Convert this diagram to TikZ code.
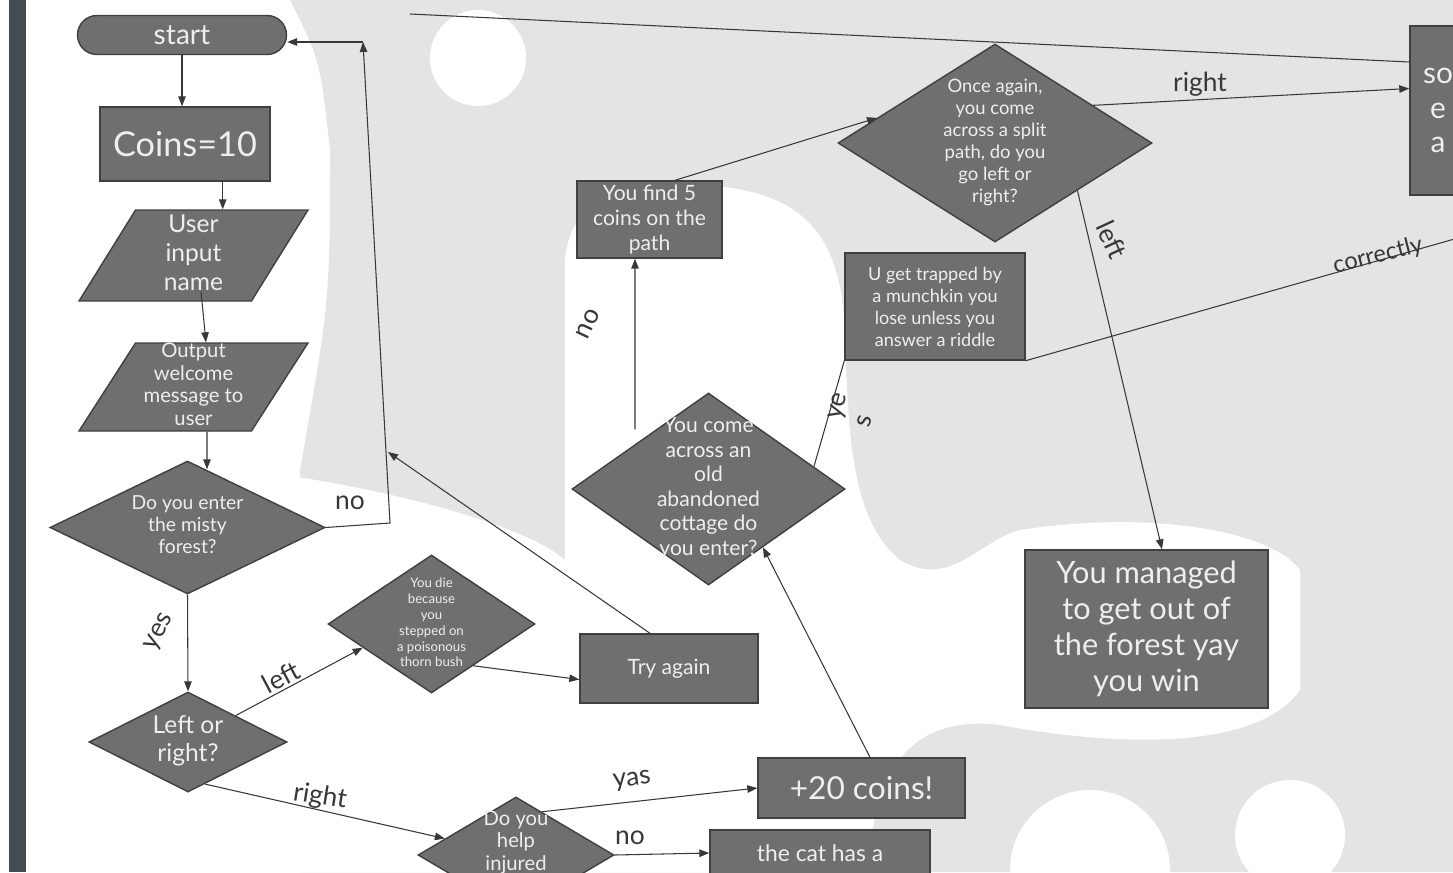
\documentclass[tikz,border=0pt]{standalone}
\usepackage{fontspec}
\setmainfont{Lato}
\usetikzlibrary{arrows.meta, shapes.geometric}
\definecolor{cbox}{HTML}{6F6F6F}
\definecolor{cedge}{HTML}{404040}
\definecolor{ctext}{HTML}{EEEEEE}
\definecolor{cline}{HTML}{383838}
\definecolor{cbar}{HTML}{464B50}
\definecolor{cback}{HTML}{E4E4E4}
\newcommand{\dtxt}[1]{\hspace{0.1em}\rule[-0.1em]{0pt}{0.2em}\smash{\makebox[0pt]{\raisebox{-0.25em}{\begin{tabular}{@{}c@{}}#1\end{tabular}}}}\hspace{0.1em}}
\newcommand{\fsz}[2]{\fontsize{#1}{#2}\selectfont}
\tikzset{
  box/.style 2 args={draw=cedge, fill=cbox, text=ctext, line width=0.8pt, align=center, inner sep=0pt, minimum width=#1*0.02cm, minimum height=#2*0.02cm},
  term/.style 2 args={box={#1}{#2}, rounded corners=#2*0.01cm},
  decide/.style 2 args={box={#1}{#2}, shape=diamond},
  io/.style 2 args={box={#1}{#2}, shape=trapezium, trapezium left angle=64, trapezium right angle=116, trapezium stretches=true},
  arrow/.style={-{Triangle[length=2mm, width=1.5mm]}, draw=cline, line width=0.6pt},
  link/.style={draw=cline, line width=0.6pt},
  note/.style={text=cline, inner sep=0pt, font=\fsz{15}{17}},
}

\begin{document}
\begin{tikzpicture}[x=0.02cm, y=-0.02cm]
  \useasboundingbox (0,0) rectangle (1453,872);
  \clip (0,0) rectangle (1453,872);
  \fill[white] (0,0) rectangle (1453,872);
  % background
  \fill[cback] (290,0) -- (1453,0) -- (1453,872) -- (300,872) -- (300,470) .. controls (330,300) .. (330,150) .. controls (320,60) .. (290,0) -- cycle;
  \fill[white] (240,872) -- (240,470) .. controls (350,480) and (520,520) .. (565,560) -- (565,260) .. controls (570,200) and (620,180) .. (700,185) .. controls (800,190) and (840,230) .. (845,330) .. controls (848,430) and (850,520) .. (900,560) .. controls (950,590) and (980,540) .. (1020,530) .. controls (1150,510) and (1270,530) .. (1300,570) -- (1300,690) .. controls (1250,760) and (1080,740) .. (1000,725) .. controls (920,715) and (870,760) .. (870,872) -- cycle;
  \fill[white] (478,58) circle (48);
  \fill[white] (1090,870) circle (80);
  \fill[white] (1290,835) circle (55);
  \fill[cbar] (9,0) rectangle (26,872);

  \node[term={209}{39}, font=\fsz{16}{18}] (start) at (182,35) {start};
  \node[box={170}{74}, font=\fsz{19.5}{22}] (coins) at (185,144) {Coins=10};
  \node[io={229}{91}, font=\fsz{14}{16.5}] (uin) at (193.5,255.5) {\dtxt{User\\input\\name}};
  \node[io={229}{88}, font=\fsz{11.5}{12.8}] (outmsg) at (193.5,387) {\dtxt{Output\\welcome\\message to\\user}};
  \node[decide={275}{133}, font=\fsz{11}{12.5}] (misty) at (187.5,527.5) {\dtxt{Do you enter\\the misty\\forest?}};
  \node[decide={198}{100}, font=\fsz{14}{16}] (lor) at (188,742) {\dtxt{Left or\\right?}};
  \node[decide={207}{138}, font=\fsz{7.5}{9}] (die) at (431.5,624) {\dtxt{You die\\because\\you\\stepped on\\a poisonous\\thorn bush}};
  \node[box={178}{69}, font=\fsz{12}{14}] (tryagain) at (669,668.5) {Try again};
  \node[decide={273}{192}, font=\fsz{12}{14}] (cottage) at (708.5,489) {\dtxt{You come\\across an\\old\\abandoned\\cottage do\\you enter?}};
  \node[box={145}{77}, font=\fsz{12}{14}] (fivecoins) at (649.5,219.5) {You find 5\\coins on the\\path};
  \node[decide={314}{198}, font=\fsz{10.5}{12.5}] (once) at (995,143) {\dtxt{Once again,\\you come\\across a split\\path, do you\\go left or\\right?}};
  \node[box={180}{107}, font=\fsz{10.3}{12.5}] (munchkin) at (935,306.5) {U get trapped by\\a munchkin you\\lose unless you\\answer a riddle};
  \node[box={56}{169}, font=\fsz{17}{19.5}] (rightbox) at (1438,110.5) {so\\e\\a};
  \node[box={243}{158}, font=\fsz{17.5}{20.5}] (managed) at (1146.5,629) {You managed\\to get out of\\the forest yay\\you win};
  \node[box={207}{60}, font=\fsz{18}{20}] (plus20) at (861.5,788) {+20 coins!};
  \node[box={220}{46}, font=\fsz{13}{15}] (cat) at (820,853) {the cat has a};
  \node[decide={196}{116}, font=\fsz{11.5}{13}] (help) at (516,855) {\dtxt{Do you\\help\\injured\\~}};

  \coordinate (noturn) at (390,523);
  \coordinate (backtop) at (363,42);
  \coordinate (backmid) at (388,452);
  \coordinate (topstart) at (410,14);
  \coordinate (offright) at (1465,236);

  \draw[arrow] (start.south) -- (start.south |- coins.north);
  \draw[arrow] (coins.-45) -- (coins.-45 |- uin.north);
  \draw[arrow] ([xshift=0.15cm, yshift=0.2cm]uin.south) -- ([xshift=0.25cm]outmsg.north);
  \draw[arrow] ([xshift=0.27cm]outmsg.south) -- ([xshift=0.39cm, yshift=-0.18cm]misty.north);
  \draw[arrow] (misty.east) -- (noturn) -- (backtop);
  \draw[arrow] (backtop) -- (backtop -| start.east);
  \draw[arrow] ([xshift=-0.38cm]tryagain.north) -- (backmid);
  \draw[arrow] (misty.south) -- (lor.north);
  \draw[arrow] (lor.29) -- (die.199);
  \draw[arrow] (lor.-68) -- (help.167);
  \draw[arrow] (die.-45) -- ([yshift=-0.22cm]tryagain.west);
  \draw[arrow] (help.59) -- (plus20.west);
  \draw[arrow] (help.east) -- (cat.west);
  \draw[arrow] ([xshift=0.17cm]plus20.north) -- (cottage.-47);
  \draw[arrow] ([xshift=-1.47cm, yshift=-0.74cm]cottage.north) -- ([xshift=-0.29cm]fivecoins.south);
  \draw[link] (cottage.12) -- (munchkin.south west);
  \draw[arrow] ([xshift=0.51cm]fivecoins.north) -- (once.168);
  \draw[arrow] (once.21) -- ([yshift=0.44cm]rightbox.west);
  \draw[arrow] (once.-30) -- ([xshift=0.31cm]managed.north);
  \draw[link] (topstart) -- ([yshift=0.97cm]rightbox.west);
  \draw[link] (munchkin.south east) -- (offright);

  \node[note] (lno) at (350,503) {no};
  \node[note, rotate=62] (lyes) at (160,632) {yes};
  \node[note, rotate=28] (lleft) at (281,677) {left};
  \node[note, rotate=-9] (lright) at (320,797) {right};
  \node[note, rotate=7] (lyas) at (632,781) {yas};
  \node[note] (lnocat) at (630,838) {no};
  \node[note, rotate=65] (lnocoins) at (588,324) {no};
  \node[note, rotate=75, align=left] (lyesmunch) at (852,410) {ye\\s};
  \node[note] (lrighttop) at (1200,84) {right};
  \node[note, rotate=-65] (lleftwin) at (1112,240) {left};
  \node[note, rotate=14, font=\fsz{13.5}{15}] (lcorrect) at (1378,256) {correctly};
\end{tikzpicture}
\end{document}
